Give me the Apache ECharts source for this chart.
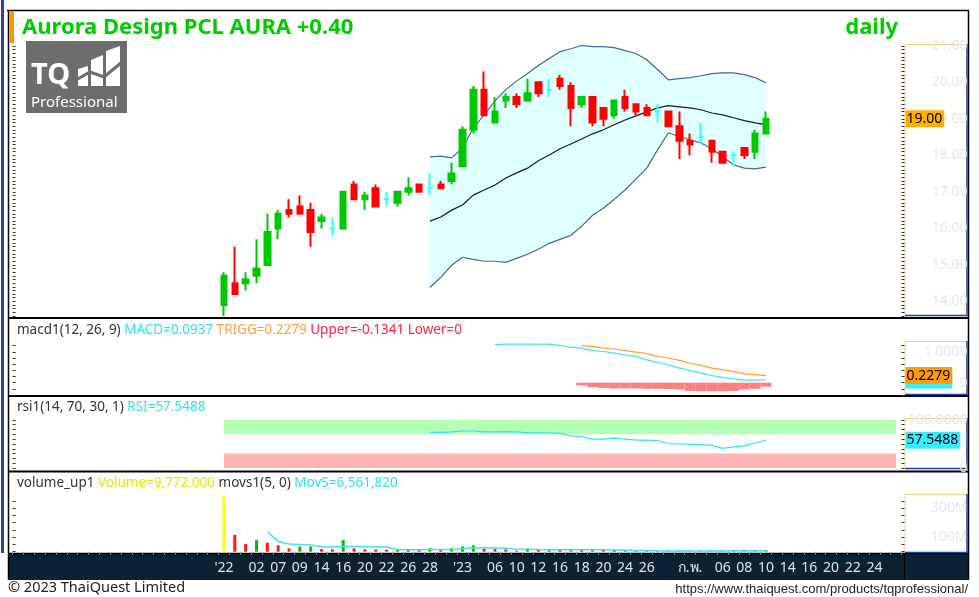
<!DOCTYPE html>
<html>
<head>
<meta charset="utf-8">
<title>AURA daily</title>
<script src="https://cdn.jsdelivr.net/npm/echarts@6/dist/echarts.min.js"></script>
<style>
html, body { margin: 0; padding: 0; background: #fff; }
#chart { width: 979px; height: 597px; }
</style>
</head>
<body>
<div id="chart"></div>
<script>
/*** data ***/
var lead = 19; // empty day slots left of the first bar

// one label per trading day (first bar = '22, then Dec 22 .. Feb 23)
var dayLabels = ["'22", '', '', '02', '', '07', '', '09', '', '14', '', '16', '', '20', '', '22', '', '26', '', '28',
	'', '', "'23", '', '', '06', '', '10', '', '12', '', '16', '', '18', '', '20', '', '24', '', '26',
	'', '', '', 'ก.พ.', '', '', '06', '', '08', '', '10', '', '14', '', '16', '', '20', '', '22', '', '24', '', ''];

var opens  = [13.9, 14.5, 14.5, 14.7, 15.0, 16.0, 16.5, 16.6, 16.5, 16.2, 16.0, 16.0, 17.2, 16.8, 17.1, 16.8, 16.7, 17.0, 17.2, 17.1,
	17.2, 17.3, 17.7, 18.7, 19.8, 18.9, 19.5, 19.6, 19.5, 20.0, 19.8, 20.1, 19.9, 19.4, 19.6, 19.3, 19.1, 19.6, 19.4, 19.3,
	19.2, 19.2, 18.8, 18.4, 18.5, 18.4, 18.1, 18.0, 18.2, 18.1, 18.6];
var closes = [14.7, 14.2, 14.6, 14.9, 15.9, 16.4, 16.4, 16.4, 15.9, 16.3, 16.0, 17.0, 16.8, 16.9, 16.6, 16.8, 17.0, 17.1, 17.0, 17.1,
	17.1, 17.5, 18.7, 19.8, 19.1, 19.2, 19.6, 19.4, 19.7, 19.7, 19.8, 19.9, 19.3, 19.6, 18.9, 19.0, 19.5, 19.3, 19.2, 19.1,
	19.2, 18.8, 18.4, 18.3, 18.5, 18.1, 17.8, 18.0, 18.0, 18.6, 19.0];
var lows   = [13.6, 14.2, 14.3, 14.5, 15.0, 15.7, 16.3, 16.4, 15.5, 16.0, 15.8, 16.0, 16.8, 16.5, 16.6, 16.6, 16.6, 16.9, 17.0, 16.9,
	17.1, 17.2, 17.7, 18.6, 19.1, 18.9, 19.3, 19.3, 19.5, 19.6, 19.6, 19.8, 18.8, 19.3, 18.8, 18.8, 19.0, 19.2, 19.1, 19.1,
	18.9, 18.8, 17.9, 18.0, 18.3, 17.8, 17.8, 17.7, 17.9, 17.9, 18.6];
var highs  = [14.8, 15.5, 14.8, 15.7, 16.4, 16.5, 16.8, 16.9, 16.7, 16.4, 16.3, 17.0, 17.3, 17.0, 17.2, 17.0, 17.0, 17.4, 17.2, 17.5,
	17.3, 17.8, 18.8, 19.9, 20.3, 19.6, 19.7, 19.7, 20.1, 20.0, 20.1, 20.2, 20.0, 19.6, 19.6, 19.3, 19.5, 19.8, 19.4, 19.4,
	19.4, 19.2, 19.2, 18.6, 18.9, 18.4, 18.1, 18.1, 18.2, 18.7, 19.2];

// bollinger bands, from bar 19
var bbUpper  = [17.96, 17.98, 17.93, 18.20, 18.75, 19.11, 19.49, 19.80, 20.04, 20.24, 20.46, 20.65, 20.84, 20.92, 21.01, 20.98,
	20.98, 20.95, 20.87, 20.79, 20.62, 20.35, 20.07, 20.10, 20.13, 20.18, 20.24, 20.26, 20.26, 20.21, 20.13, 19.99];
var bbMiddle = [16.20, 16.31, 16.50, 16.64, 16.91, 17.05, 17.19, 17.38, 17.52, 17.65, 17.85, 18.01, 18.18, 18.31, 18.45, 18.59,
	18.70, 18.84, 18.97, 19.08, 19.19, 19.30, 19.36, 19.33, 19.30, 19.25, 19.16, 19.11, 19.03, 18.95, 18.89, 18.84];
var bbLower  = [14.38, 14.66, 14.99, 15.21, 15.15, 15.10, 15.10, 15.07, 15.18, 15.29, 15.43, 15.59, 15.70, 15.81, 16.06, 16.36,
	16.55, 16.80, 17.05, 17.35, 17.65, 18.15, 18.62, 18.51, 18.42, 18.34, 18.18, 17.96, 17.74, 17.65, 17.63, 17.68];

// macd from bar 25, trigger and histogram from bar 33
var macdLine  = [1.23, 1.25, 1.25, 1.25, 1.25, 1.25, 1.20, 1.15, 1.12, 1.04, 1.01, 0.96, 0.90, 0.85, 0.74, 0.66,
	0.58, 0.47, 0.39, 0.31, 0.23, 0.17, 0.12, 0.08, 0.08, 0.0937];
var triggLine = [1.20, 1.17, 1.12, 1.09, 1.04, 0.99, 0.94, 0.85, 0.80, 0.72, 0.63, 0.56, 0.47, 0.42, 0.36, 0.29, 0.26, 0.2279];
var macdHist  = [-0.09, -0.15, -0.17, -0.19, -0.19, -0.19, -0.20, -0.20, -0.21, -0.22, -0.27, -0.28, -0.28, -0.28, -0.27, -0.22, -0.20, -0.13];

// rsi from bar 19
var rsiLine = [74, 74, 75, 77, 77, 75, 75, 75.5, 75, 73, 73, 73, 72, 67, 65, 60, 60, 62, 60, 58, 58, 57, 51, 50, 49, 49,
	47, 41, 44, 46, 52, 57.5488];

// volume in millions, MovS(5) from bar 4
var volumes = [380, 115, 53, 80, 62, 44, 23, 35, 36, 18, 16, 80, 23, 16, 15, 14, 16, 12, 11, 23, 12, 23, 35, 44, 21, 18,
	16, 7, 21, 12, 14, 12, 14, 12, 14, 12, 10, 8, 5, 4.5, 4, 3.5, 6, 5.5, 4.5, 7, 5, 6.5, 5.5, 6, 9.772];
var movs = [138, 71, 53, 49, 46, 34, 33, 35, 35, 34, 34, 33, 15, 14, 13, 15, 15, 16, 21, 27, 27, 26, 24, 19, 17, 15, 14,
	13, 14, 13, 13, 13, 12, 11, 9, 8, 6.5, 5.5, 4.7, 4.7, 4.7, 5.2, 5.6, 5.7, 5.7, 6.0, 6.56];

var priceLabels = [14, 15, 16, 17, 18, 19, 20, 21];

/*** helpers ***/
var FONT = '"Noto Sans", "DejaVu Sans", sans-serif';

function blanks(n, v) {
	var a = [];
	for (var i = 0; i < n; i++) a.push(v);
	return a;
}
// put a series that starts at bar `from` onto the category slots
function pad(arr, from) {
	return blanks(lead + from, '-').concat(arr);
}
function steps(a, b, s) {
	var out = [];
	for (var v = a; v <= b + 1e-9; v += s) out.push(+v.toFixed(4));
	return out;
}

var cats = blanks(lead, '').concat(dayLabels);
var candles = opens.map(function(o, i) {
	return [o, closes[i], lows[i], highs[i]];
});
var bbWidth = bbUpper.map(function(u, i) {
	return +(u - bbLower[i]).toFixed(2);
});

var grids = [
	{ left: 12.6, width: 888.9, top: 44, height: 272 },
	{ left: 12.6, width: 888.9, top: 341, height: 54 },
	{ left: 12.6, width: 888.9, top: 418, height: 51 },
	{ left: 12.6, width: 888.9, top: 494, height: 59 }
];
grids.forEach(function(g) { g.outerBoundsMode = 'none'; });

function rightAxis(gi, min, max, ticks, labels, fmt) {
	return {
		type: 'value', gridIndex: gi, position: 'right', min: min, max: max,
		splitLine: { show: false }, axisLine: { show: false },
		axisTick: { show: true, length: 3, customValues: ticks, lineStyle: { color: '#333' } },
		axisLabel: { customValues: labels, formatter: fmt, align: 'right', margin: 66,
			color: '#e2e7f7', fontSize: 14, fontFamily: FONT }
	};
}
function leftAxis(gi, min, max, ticks) {
	return {
		type: 'value', gridIndex: gi, position: 'left', min: min, max: max,
		splitLine: { show: false }, axisLine: { show: false }, axisLabel: { show: false },
		axisTick: { show: true, inside: true, length: 3, customValues: ticks, lineStyle: { color: '#333' } }
	};
}
function catAxis(gi, show) {
	return {
		type: 'category', gridIndex: gi, data: cats, boundaryGap: true, z: 10,
		axisLine: { show: false },
		axisTick: { show: show, interval: 0, length: 3, lineStyle: { color: '#8a97a3' } },
		axisLabel: { show: show, interval: 0, margin: 8, color: '#dde4ea', fontSize: 14, fontFamily: FONT }
	};
}
// value tag shown in the right hand box
function valueTag(v, text, bg) {
	return {
		symbol: 'none', silent: true,
		lineStyle: { color: 'rgba(0,0,0,0)', width: 0 },
		label: { show: true, position: 'end', distance: 4, formatter: text, color: '#000', backgroundColor: bg,
			fontSize: 14, fontFamily: FONT, padding: [2, 2, 1, 1] },
		data: [{ yAxis: v }]
	};
}
function plain(name, xi, yi, data, color, width) {
	return {
		name: name, type: 'line', xAxisIndex: xi, yAxisIndex: yi, data: data, clip: false,
		showSymbol: false, symbol: 'none', silent: true, z: 2,
		lineStyle: { color: color, width: width }
	};
}

/*** option ***/
var macdSeries = plain('MACD', 1, 2, pad(macdLine, 25), '#40e4f6', 1.2);
macdSeries.markLine = valueTag(0.0937, '0.0937', '#33eeff');
var triggSeries = plain('TRIGG', 1, 2, pad(triggLine, 33), '#ffa030', 1.2);
triggSeries.markLine = valueTag(0.2279, '0.2279', '#ff9d00');
var rsiSeries = plain('RSI', 2, 4, pad(rsiLine, 19), '#33e2f2', 1.2);
rsiSeries.markLine = valueTag(57.5488, '57.5488', '#33eeff');
rsiSeries.markArea = {
	silent: true,
	data: [
		[{ xAxis: lead, yAxis: 70, itemStyle: { color: '#b4ffb4' } }, { xAxis: cats.length - 1, yAxis: 100 }],
		[{ xAxis: lead, yAxis: 0, itemStyle: { color: '#ffb4b4' } }, { xAxis: cats.length - 1, yAxis: 30 }]
	]
};

var labelFont = { fontSize: 13.5, fontWeight: 'normal', fontFamily: FONT };
function rich(colors) {
	var r = {};
	for (var k in colors) r[k] = { color: colors[k], fontSize: 13.5, fontFamily: FONT };
	return r;
}

var option = {
	animation: false,
	backgroundColor: '#fff',
	grid: grids,
	xAxis: [catAxis(0, false), catAxis(1, false), catAxis(2, false), catAxis(3, true)],
	yAxis: [
		rightAxis(0, 13.6, 21.05, steps(13.6, 21.0, 0.1), priceLabels, function(v) { return v.toFixed(2); }),
		leftAxis(0, 13.6, 21.05, steps(13.6, 21.0, 0.1)),
		rightAxis(1, -0.4, 1.35, steps(-0.4, 1.2, 0.2), [0, 1], function(v) { return v ? v.toFixed(4) : '0'; }),
		leftAxis(1, -0.4, 1.35, steps(-0.4, 1.2, 0.2)),
		rightAxis(2, -2, 104, steps(0, 100, 10), [0, 100], function(v) { return v ? v.toFixed(4) : '0'; }),
		leftAxis(2, -2, 104, steps(0, 100, 10)),
		rightAxis(3, -9, 398, steps(0, 350, 50), [100, 300], function(v) { return v + 'M'; }),
		leftAxis(3, -9, 398, steps(0, 350, 50))
	],
	title: [
		{ text: 'Aurora Design PCL AURA +0.40', left: 22, top: 17, padding: 0,
			textStyle: { color: '#00cc00', fontSize: 22, fontWeight: 'bold', fontFamily: FONT } },
		{ text: 'daily', right: 81, top: 17, padding: 0,
			textStyle: { color: '#00cc00', fontSize: 22, fontWeight: 'bold', fontFamily: FONT } },
		{ text: '{k|macd1(12, 26, 9)} {c|MACD=0.0937} {o|TRIGG=0.2279} {r|Upper=-0.1341 Lower=0}',
			left: 17, top: 323, padding: 0,
			textStyle: Object.assign({ rich: rich({ k: '#333', c: '#33e0f0', o: '#ffa040', r: '#ff2244' }) }, labelFont) },
		{ text: '{k|rsi1(14, 70, 30, 1)} {c|RSI=57.5488}', left: 17, top: 400, padding: 0,
			textStyle: Object.assign({ rich: rich({ k: '#333', c: '#33e0f0' }) }, labelFont) },
		{ text: '{k|volume_up1} {y|Volume=9,772,000} {k|movs1(5, 0)} {c|MovS=6,561,820}', left: 17, top: 476, padding: 0,
			textStyle: Object.assign({ rich: rich({ k: '#333', y: '#e6e600', c: '#33e0f0' }) }, labelFont) },
		{ text: '© 2023 ThaiQuest Limited', left: 8, top: 580, padding: 0,
			textStyle: { color: '#222', fontSize: 14.5, fontWeight: 'normal', fontFamily: FONT } },
		{ text: 'https://www.thaiquest.com/products/tqprofessional/', right: 11, top: 583, padding: 0,
			textStyle: { color: '#222', fontSize: 13, fontWeight: 'normal', fontFamily: '"Liberation Sans", sans-serif' } }
	],
	series: [
		// band fill: lower edge + width, stacked
		{ type: 'line', xAxisIndex: 0, yAxisIndex: 0, stack: 'bb', data: pad(bbLower, 19), symbol: 'none',
			silent: true, z: 1, lineStyle: { opacity: 0 } },
		{ type: 'line', xAxisIndex: 0, yAxisIndex: 0, stack: 'bb', data: pad(bbWidth, 19), symbol: 'none',
			silent: true, z: 1, lineStyle: { opacity: 0 }, areaStyle: { color: '#e0ffff', opacity: 1 } },
		plain('Upper', 0, 0, pad(bbUpper, 19), '#4c64a4', 1.2),
		plain('Lower', 0, 0, pad(bbLower, 19), '#4c64a4', 1.2),
		plain('Middle', 0, 0, pad(bbMiddle, 19), '#1a1a1a', 1.2),
		{
			name: 'AURA', type: 'candlestick', xAxisIndex: 0, yAxisIndex: 0, z: 3, clip: false,
			data: pad(candles, 0), barWidth: 6,
			itemStyle: { color: '#00c800', color0: '#ff0000', borderColor: '#00c800', borderColor0: '#ff0000',
				borderColorDoji: '#33ffff', borderWidth: 2 },
			markLine: valueTag(19, '19.00', '#ffb000')
		},
		{ name: 'Hist', type: 'bar', xAxisIndex: 1, yAxisIndex: 2, data: pad(macdHist, 33), barWidth: '100%',
			silent: true, itemStyle: { color: '#ff8080' } },
		macdSeries,
		triggSeries,
		rsiSeries,
		{ name: 'Volume', type: 'bar', xAxisIndex: 3, yAxisIndex: 6, data: pad(volumes, 0), barWidth: 3, silent: true,
			itemStyle: { color: function(p) {
				var i = p.dataIndex - lead;
				if (i === 0) return '#ffff00';
				return volumes[i] >= volumes[i - 1] ? '#00c000' : '#ff1a1a';
			} } },
		plain('MovS', 3, 6, pad(movs, 4), '#40e0ec', 1.5)
	],
	graphic: [
		// frame
		{ type: 'rect', shape: { x: 1, y: 0, width: 3, height: 553 }, style: { fill: '#2f40a0' } },
		{ type: 'rect', shape: { x: 9, y: 553, width: 959, height: 27 }, style: { fill: '#0c2232' }, z: -1 },
		{ type: 'line', shape: { x1: 7, y1: 10.5, x2: 969, y2: 10.5 }, style: { stroke: '#000', lineWidth: 1.5 } },
		{ type: 'line', shape: { x1: 8.5, y1: 10, x2: 8.5, y2: 580 }, style: { stroke: '#000', lineWidth: 1.5 } },
		{ type: 'line', shape: { x1: 968.5, y1: 10, x2: 968.5, y2: 580 }, style: { stroke: '#000', lineWidth: 1.5 } },
		{ type: 'line', shape: { x1: 8, y1: 318, x2: 969, y2: 318 }, style: { stroke: '#000', lineWidth: 2 } },
		{ type: 'line', shape: { x1: 8, y1: 396, x2: 969, y2: 396 }, style: { stroke: '#000', lineWidth: 2 } },
		{ type: 'line', shape: { x1: 8, y1: 471.5, x2: 969, y2: 471.5 }, style: { stroke: '#000', lineWidth: 2 } },
		{ type: 'line', shape: { x1: 8, y1: 553.5, x2: 969, y2: 553.5 }, style: { stroke: '#000', lineWidth: 1.5 } },
		{ type: 'line', shape: { x1: 904.5, y1: 553, x2: 904.5, y2: 580 }, style: { stroke: '#000', lineWidth: 1 } },
		{ type: 'rect', shape: { x: 9, y: 11, width: 5, height: 32 }, style: { fill: '#ff9900' } },
		// right value boxes
		{ type: 'polyline', shape: { points: [[905, 316], [905, 44.5], [967, 44.5]] }, style: { stroke: '#f6d27a', fill: null, lineWidth: 1 } },
		{ type: 'polyline', shape: { points: [[967, 44], [967, 315.5], [905, 315.5]] }, style: { stroke: '#2040b0', fill: null, lineWidth: 1.5 } },
		{ type: 'polyline', shape: { points: [[905, 395], [905, 341.5], [967, 341.5]] }, style: { stroke: '#f6d27a', fill: null, lineWidth: 1 } },
		{ type: 'polyline', shape: { points: [[967, 341], [967, 394.5], [905, 394.5]] }, style: { stroke: '#2040b0', fill: null, lineWidth: 1.5 } },
		{ type: 'polyline', shape: { points: [[905, 469], [905, 418.5], [967, 418.5]] }, style: { stroke: '#f6d27a', fill: null, lineWidth: 1 } },
		{ type: 'polyline', shape: { points: [[967, 418], [967, 468.5], [905, 468.5]] }, style: { stroke: '#2040b0', fill: null, lineWidth: 1.5 } },
		{ type: 'polyline', shape: { points: [[905, 553], [905, 494.5], [967, 494.5]] }, style: { stroke: '#f6d27a', fill: null, lineWidth: 1 } },
		{ type: 'polyline', shape: { points: [[967, 494], [967, 552.5], [905, 552.5]] }, style: { stroke: '#2040b0', fill: null, lineWidth: 1.5 } },
		// TQ Professional logo
		{ type: 'rect', shape: { x: 26, y: 41, width: 101, height: 72 }, style: { fill: '#6d6d6d' } },
		{ type: 'text', x: 31, y: 76, style: { text: 'TQ', fill: '#fff', font: 'bold 29px ' + FONT, verticalAlign: 'middle' } },
		{ type: 'polygon', shape: { points: [[78, 69], [88, 66], [88, 86], [78, 86]] }, style: { fill: '#fff' } },
		{ type: 'polygon', shape: { points: [[91, 60], [103, 55], [103, 86], [91, 86]] }, style: { fill: '#fff' } },
		{ type: 'polygon', shape: { points: [[106, 51], [120, 46], [120, 86], [106, 86]] }, style: { fill: '#fff' } },
		{ type: 'polyline', shape: { points: [[76, 80], [90, 72], [104, 77], [122, 62]] }, style: { stroke: '#6d6d6d', fill: null, lineWidth: 3 } },
		{ type: 'text', x: 31, y: 103, style: { text: 'Professional', fill: '#fff', font: '15px ' + FONT, verticalAlign: 'middle' } }
	]
};

var myChart = echarts.init(document.getElementById('chart'));
myChart.setOption(option);
</script>
</body>
</html>
